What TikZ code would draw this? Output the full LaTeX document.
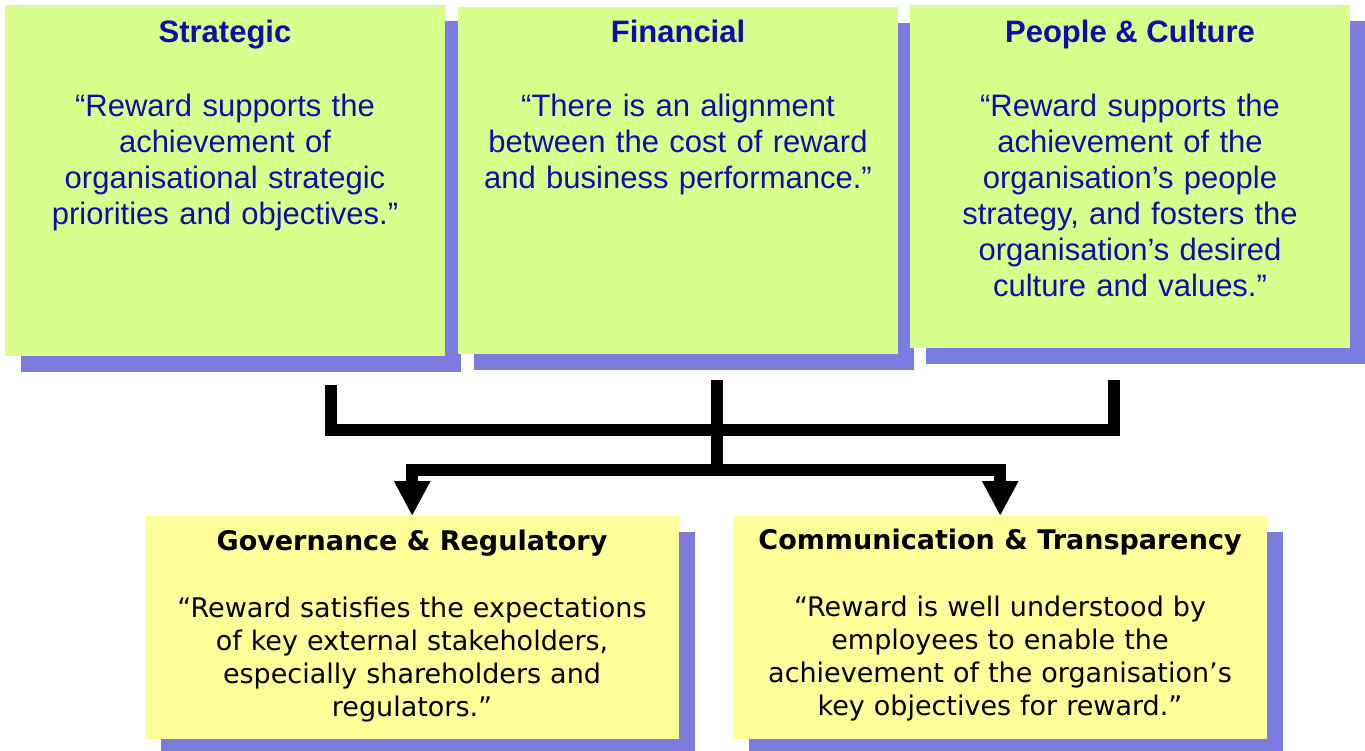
\documentclass[tikz,border=0pt]{standalone}
\usepackage{fontspec}
\setmainfont{Liberation Sans}
\newfontfamily\verd{DejaVu Sans}
\usetikzlibrary{arrows.meta,shadows}
\definecolor{gfill}{RGB}{217,255,140}
\definecolor{yfill}{RGB}{255,255,153}
\definecolor{shad}{RGB}{124,124,224}
\definecolor{tblue}{RGB}{14,14,170}
\begin{document}
\begin{tikzpicture}[x=1pt,y=-1pt,
 box/.style={draw=none, anchor=north west, inner sep=0pt,
   drop shadow={shadow xshift=16pt, shadow yshift=-16pt, fill=shad, opacity=1}},
 gbox/.style={box, fill=gfill, minimum width=440pt},
 ybox/.style={box, fill=yfill, minimum width=534pt, minimum height=223pt},
 ttitle/.style={anchor=base, text=tblue, font=\fontsize{31}{36}\selectfont\bfseries, inner sep=0pt},
 tbody/.style={anchor=base, text=tblue, text width=430pt, align=center, font=\fontsize{31}{36}\selectfont, inner sep=0pt},
 btitle/.style={anchor=base, font=\verd\fontsize{27}{33}\selectfont\bfseries, inner sep=0pt},
 bbody/.style={anchor=base, text width=525pt, align=center, font=\verd\fontsize{27}{33}\selectfont, inner sep=0pt},
 conn/.style={line width=12pt, line join=miter, line cap=butt},
]
\useasboundingbox (0,0) rectangle (1365,751);

% top boxes
\node[gbox, minimum height=351pt] (strat) at (5,5) {};
\node[gbox, minimum height=347pt] (fin) at (458,7) {};
\node[gbox, minimum height=343pt] (ppl) at (910,5) {};

\node[ttitle] (stratT) at (225,43) {Strategic};
\node[tbody] (stratB) at (225,117) {“Reward supports the\\achievement of\\organisational strategic\\priorities and objectives.”};

\node[ttitle] (finT) at (678,43) {Financial};
\node[tbody] (finB) at (678,117) {“There is an alignment\\between the cost of reward\\and business performance.”};

\node[ttitle] (pplT) at (1130,43) {People \& Culture};
\node[tbody] (pplB) at (1130,117) {“Reward supports the\\achievement of the\\organisation’s people\\strategy, and fosters the\\organisation’s desired\\culture and values.”};

% bottom boxes
\node[ybox] (gov) at (145,516) {};
\node[ybox] (com) at (733,516) {};

\node[btitle] (govT) at (412,550) {Governance \& Regulatory};
\node[bbody] (govB) at (412,617) {“Reward satisfies the expectations\\of key external stakeholders,\\especially shareholders and\\regulators.”};

\node[btitle] (comT) at (1000,549) {Communication \& Transparency};
\node[bbody] (comB) at (1000,616) {“Reward is well understood by\\employees to enable the\\achievement of the organisation’s\\key objectives for reward.”};

% connectors
\coordinate (sL) at (330.5,385);
\coordinate (sR) at (1114,380);
\coordinate (hub) at (716.5,429.5);
\coordinate (fTop) at (716.5,380);
\coordinate (split) at (716.5,470);

\draw[conn] (sL) |- (hub) -| (sR);
\draw[conn] (fTop) -- (split);
\draw[conn, -{Triangle[width=34pt,length=35pt]}] (split) -| (gov.north);
\draw[conn, -{Triangle[width=34pt,length=35pt]}] (split) -| (com.north);
\end{tikzpicture}
\end{document}
